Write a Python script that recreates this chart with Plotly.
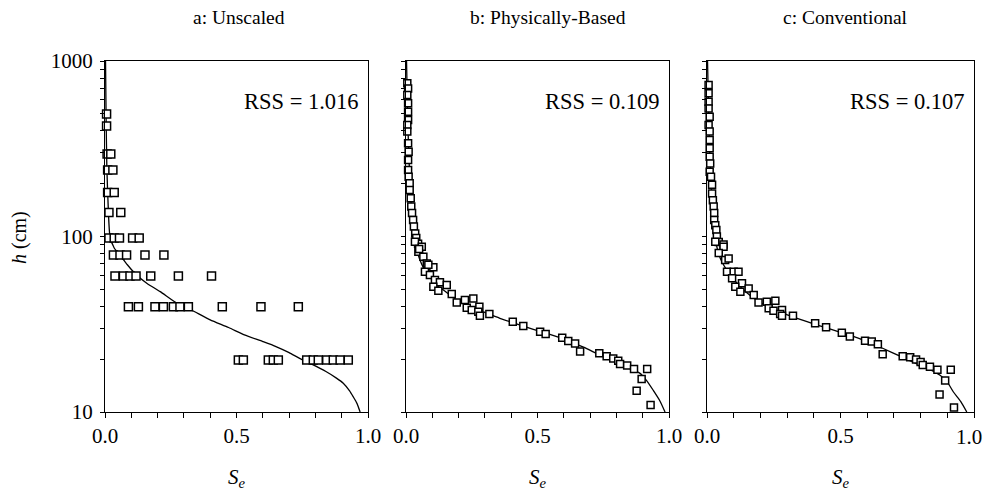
import plotly.graph_objects as go

# ---------------- data ----------------
panel_titles = ["a: Unscaled", "b: Physically-Based", "c: Conventional"]
rss_labels = ["RSS = 1.016", "RSS = 0.109", "RSS = 0.107"]

x_tickvals = [0.0, 0.5, 1.0]
x_ticktext = ["0.0", "0.5", "1.0"]
x_minor_vals = [0.1, 0.2, 0.3, 0.4, 0.6, 0.7, 0.8, 0.9]
y_tickvals = [10, 100, 1000]
y_ticktext = ["10", "100", "1000"]
y_minor_vals = [20, 30, 40, 50, 60, 70, 80, 90, 200, 300, 400, 500, 600, 700, 800, 900]

# Panel a: unscaled measurements
a_S = [0.006, 0.006, 0.008, 0.022, 0.010, 0.030, 0.010, 0.035, 0.015, 0.060,
       0.015, 0.035, 0.055, 0.105, 0.130,
       0.032, 0.057, 0.082, 0.152, 0.224,
       0.038, 0.070, 0.095, 0.118, 0.174, 0.279, 0.405,
       0.089, 0.127, 0.190, 0.222, 0.260, 0.285, 0.317, 0.446, 0.593, 0.735,
       0.507, 0.526, 0.621, 0.640, 0.659, 0.767, 0.792, 0.811, 0.843, 0.868, 0.894, 0.925]
a_h = [499, 426, 295, 295, 239, 239, 178, 178, 137, 137,
       98, 98, 98, 98, 98,
       78.5, 78.5, 78.5, 78.5, 78.5,
       59.6, 59.6, 59.6, 59.6, 59.6, 59.6, 59.6,
       39.8, 39.8, 39.8, 39.8, 39.8, 39.8, 39.8, 39.8, 39.8, 39.8,
       19.8, 19.8, 19.8, 19.8, 19.8, 19.8, 19.8, 19.8, 19.8, 19.8, 19.8, 19.8]
a_curve_S = [0.002, 0.004, 0.007, 0.012, 0.019, 0.035, 0.057, 0.085, 0.12, 0.16, 0.21, 0.27,
             0.33, 0.40, 0.47, 0.53, 0.60, 0.65, 0.70, 0.74, 0.79, 0.84, 0.88, 0.906, 0.93,
             0.944, 0.958, 0.97]
a_curve_h = [1000, 500, 250, 150, 100, 86, 78.5, 69, 60.3, 54, 48.5, 42,
             38, 33.5, 30.3, 27.5, 25.2, 23.6, 21.8, 20.2, 18.6, 17.0, 15.6, 14.6, 13.2,
             12.2, 11.2, 10.0]

# Panel b: physically-based scaling
b_S = [0.005, 0.008, 0.005, 0.008, 0.008, 0.008, 0.005, 0.005, 0.008, 0.010, 0.008, 0.008,
       0.010, 0.014, 0.014, 0.018, 0.020, 0.023, 0.027, 0.030, 0.035, 0.039, 0.046,
       0.034, 0.060, 0.047, 0.066, 0.079, 0.104, 0.072, 0.091, 0.110, 0.129, 0.155, 0.104,
       0.123, 0.174, 0.193, 0.224, 0.256, 0.231, 0.250, 0.279, 0.275, 0.281, 0.317, 0.406,
       0.446, 0.510, 0.531, 0.594, 0.617, 0.643, 0.662, 0.735, 0.763, 0.788, 0.807, 0.814,
       0.841, 0.867, 0.917, 0.896, 0.877, 0.930, 0.050, 0.085]
b_h = [747, 698, 640, 574, 514, 461, 432, 396, 340, 304, 273, 239,
       219, 201, 184, 165, 148, 136, 124, 114, 104, 98, 91,
       93.4, 87.4, 81.8, 76.6, 70.2, 66.7, 63, 60.4, 56.6, 54.8, 53, 51.8,
       49.1, 47, 42, 43.4, 44.4, 39.3, 38.1, 39.8, 37.2, 35.4, 36.2, 32.7,
       30.9, 28.7, 27.8, 26.5, 25.4, 24.6, 22.1, 21.6, 20.8, 20.2, 19.6, 18.8,
       18.4, 17.6, 17.6, 15.4, 13.2, 10.96, 85, 69]
b_curve_S = [0.002, 0.005, 0.009, 0.014, 0.020, 0.025, 0.033, 0.053, 0.070, 0.091, 0.115,
             0.142, 0.170, 0.205, 0.250, 0.294, 0.357, 0.420, 0.484, 0.550, 0.611, 0.675,
             0.738, 0.790, 0.840, 0.890, 0.915, 0.940, 0.965, 0.985]
b_curve_h = [1000, 600, 350, 220, 150, 120, 95, 73.5, 65, 58.9, 53,
             49.6, 46, 42.5, 39.5, 37.2, 34.2, 31.8, 29.6, 27.6, 25.7, 23.4,
             21.1, 19.5, 18.0, 16.6, 15.1, 13.3, 11.6, 10.0]

# Panel c: conventional scaling
c_S = [0.006, 0.006, 0.006, 0.006, 0.010, 0.006, 0.010, 0.010, 0.010, 0.010, 0.012, 0.010,
       0.015, 0.019, 0.019, 0.022, 0.025, 0.027, 0.027, 0.031, 0.035, 0.037, 0.044, 0.062,
       0.031, 0.062, 0.044, 0.068, 0.081, 0.075, 0.100, 0.118, 0.094, 0.131, 0.106, 0.125,
       0.156, 0.175, 0.193, 0.224, 0.256, 0.231, 0.249, 0.281, 0.274, 0.281, 0.322, 0.405,
       0.446, 0.505, 0.535, 0.592, 0.617, 0.640, 0.658, 0.733, 0.761, 0.783, 0.800, 0.808,
       0.835, 0.863, 0.913, 0.892, 0.871, 0.925]
c_h = [729, 655, 586, 537, 482, 432, 396, 355, 318, 285, 261, 234,
       219, 197, 176, 161, 148, 136, 124, 116, 109, 100, 93, 90,
       93.4, 87.4, 80.5, 73.5, 75, 63, 63, 63, 57.8, 54.2, 51.8, 48.5,
       50.6, 46.4, 42, 42.5, 43.1, 39.0, 37.8, 38.1, 36.2, 35.3, 35.3, 32.0,
       30.4, 28.3, 26.9, 25.5, 25.2, 24.3, 21.3, 20.8, 20.5, 19.9, 19.3, 18.5,
       18.1, 17.4, 17.4, 15.1, 12.6, 10.6]
c_curve_S = [0.002, 0.005, 0.009, 0.014, 0.020, 0.025, 0.032, 0.050, 0.087, 0.137, 0.200,
             0.287, 0.349, 0.410, 0.474, 0.540, 0.599, 0.660, 0.723, 0.780, 0.830, 0.873,
             0.900, 0.923, 0.950, 0.973]
c_curve_h = [1000, 600, 350, 220, 150, 120, 95, 75, 60.4, 49.5, 42,
             36.5, 33.7, 31.4, 29.3, 27.2, 25.2, 23.0, 20.8, 19.0, 17.6, 16.2,
             14.8, 13.0, 11.5, 10.0]

panels = [(a_S, a_h, a_curve_S, a_curve_h, 8),
          (b_S, b_h, b_curve_S, b_curve_h, 7),
          (c_S, c_h, c_curve_S, c_curve_h, 7)]

# ---------------- figure ----------------
W, H = 985, 495
ML, MT = 105, 61
MR = W - 974
MB = H - 412
PW = W - ML - MR
PH = H - MT - MB


def px_x(page_x):
    return (page_x - ML) / PW


def py(page_y):
    return 1 - (page_y - MT) / PH


domains = [[0.0, px_x(368)], [px_x(406), px_x(669)], [px_x(707), 1.0]]
title_centers = [239, 548, 845]

FONT = "Liberation Serif, Times New Roman, Times, serif"
fig = go.Figure()

for i, (S, h, cS, ch, msize) in enumerate(panels):
    xa = "x" if i == 0 else f"x{i+1}"
    ya = "y" if i == 0 else f"y{i+1}"
    fig.add_trace(go.Scatter(x=cS, y=ch, mode="lines", xaxis=xa, yaxis=ya,
                             line=dict(color="black", width=1.3, shape="spline", smoothing=0.6),
                             showlegend=False, hoverinfo="skip"))
    fig.add_trace(go.Scatter(x=S, y=h, mode="markers", xaxis=xa, yaxis=ya, cliponaxis=False,
                             marker=dict(symbol="square", size=msize, color="white",
                                         line=dict(color="black", width=1.5)),
                             showlegend=False))

layout = dict(width=W, height=H, margin=dict(l=ML, r=MR, t=MT, b=MB, autoexpand=False),
              paper_bgcolor="white", plot_bgcolor="white",
              font=dict(family=FONT, color="black", size=18))

annotations = []
for i in range(3):
    key = "" if i == 0 else str(i + 1)
    # the last panel's "1.0" sits at the window edge: it is drawn as a text kept inside the page
    tv = x_tickvals if i < 2 else x_tickvals[:-1]
    tt = x_ticktext if i < 2 else x_ticktext[:-1]
    layout["xaxis" + key] = dict(
        domain=domains[i], range=[0, 1], anchor="y" + key, automargin=False,
        tickmode="array", tickvals=tv, ticktext=tt,
        ticks="outside", ticklen=5, tickwidth=1, tickcolor="black",
        minor=dict(tickmode="array", tickvals=x_minor_vals + ([1.0] if i == 2 else []),
                   ticks="outside", ticklen=5, tickwidth=1, tickcolor="black", showgrid=False),
        showline=True, linecolor="black", linewidth=1.3, mirror=True,
        showgrid=False, zeroline=False, ticklabeloverflow="allow",
        tickfont=dict(family=FONT, size=21), ticklabelstandoff=0,
    )
    layout["yaxis" + key] = dict(
        domain=[0, 1], type="log", range=[1, 3], anchor="x" + key, automargin=False,
        tickmode="array", tickvals=y_tickvals, ticktext=y_ticktext,
        ticks="outside", ticklen=4, tickwidth=1, tickcolor="black",
        minor=dict(tickmode="array", tickvals=y_minor_vals, ticks="outside", ticklen=4,
                   tickwidth=1, tickcolor="black", showgrid=False),
        showline=True, linecolor="black", linewidth=1.3, mirror=True,
        showgrid=False, zeroline=False, ticklabeloverflow="allow",
        showticklabels=(i == 0), tickfont=dict(family=FONT, size=21), ticklabelstandoff=3,
    )
    annotations.append(dict(text=panel_titles[i], xref="paper", yref="paper",
                            x=px_x(title_centers[i]), y=py(17),
                            xanchor="center", yanchor="middle", showarrow=False,
                            font=dict(family=FONT, size=19.5)))
    annotations.append(dict(text=rss_labels[i], xref=f"x{key} domain", yref="paper",
                            x=0.975, y=py(102),
                            xanchor="right", yanchor="middle", showarrow=False,
                            font=dict(family=FONT, size=22.5)))
    annotations.append(dict(text="<i>S</i><sub><i>e</i></sub>", xref=f"x{key} domain", yref="paper",
                            x=0.5, y=py(478),
                            xanchor="center", yanchor="middle", showarrow=False,
                            font=dict(family=FONT, size=21)))

# last x tick label of panel c, kept inside the window
annotations.append(dict(text=x_ticktext[-1], xref="paper", yref="paper",
                        x=px_x(984), y=py(437),
                        xanchor="right", yanchor="middle", showarrow=False,
                        font=dict(family=FONT, size=21)))

# y-axis title
annotations.append(dict(text="<i>h</i> (cm)", xref="paper", yref="paper",
                        x=px_x(19), y=py(238), textangle=-90,
                        xanchor="center", yanchor="middle", showarrow=False,
                        font=dict(family=FONT, size=20)))

layout["annotations"] = annotations
fig.update_layout(**layout)

# remove the default page margin so the 985x495 figure fills the window exactly
fig.write_html("out.html", config={"displayModeBar": False},
               post_script="document.body.style.margin='0';document.body.style.overflow='hidden';")
